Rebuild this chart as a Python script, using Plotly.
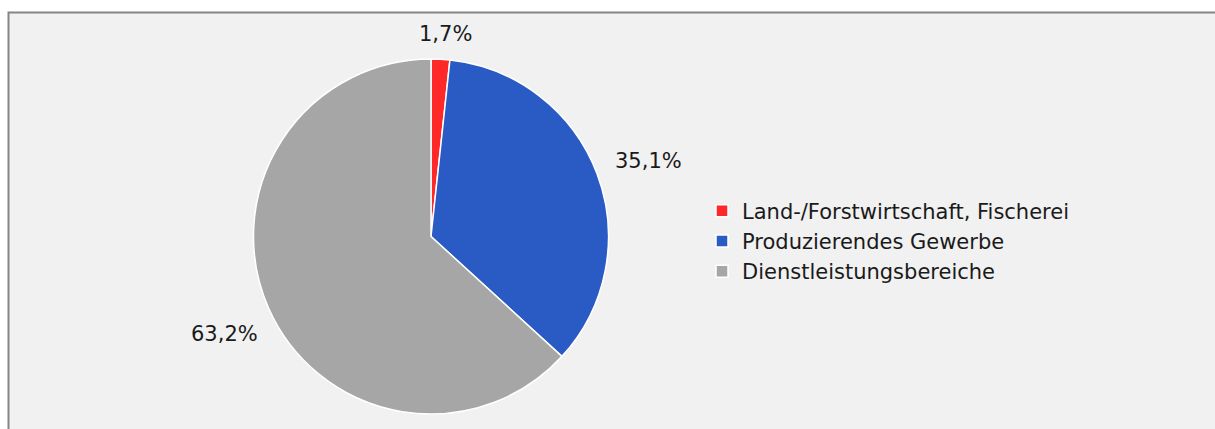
import math
import plotly.graph_objects as go

# Anteile der Wirtschaftsbereiche (Prozent)
sectors = ["Land-/Forstwirtschaft, Fischerei", "Produzierendes Gewerbe", "Dienstleistungsbereiche"]
shares = [1.7, 35.1, 63.2]
share_labels = ["1,7%", "35,1%", "63,2%"]
colors = ["#FF2828", "#2A5BC4", "#A6A6A6"]

W, H = 1215, 429
FONT = "DejaVu Sans"
FS = 21
TEXT_COLOR = "#1a1a1a"

# Kreisgeometrie in Pixeln
CX, CY, R = 431, 236.5, 177.5

fig = go.Figure(
    go.Pie(
        labels=sectors,
        values=shares,
        textinfo="none",
        sort=False,
        direction="clockwise",
        rotation=0,
        marker=dict(colors=colors, line=dict(color="white", width=1.5)),
        domain=dict(x=[(CX - R) / W, (CX + R) / W], y=[(H - CY - R) / H, (H - CY + R) / H]),
        hoverinfo="label+percent",
    )
)

# Beschriftungen außerhalb der Segmente, mittig zum jeweiligen Winkel
total = sum(shares)
cum = 0.0
GAP = 17
for val, txt in zip(shares, share_labels):
    mid = (cum + val / 2) / total * 2 * math.pi
    cum += val
    ux, uy = math.sin(mid), math.cos(mid)
    w_est, h_est = len(txt) * FS * 0.62, FS * 1.1
    d = R + GAP + abs(ux) * w_est / 2 + abs(uy) * h_est / 2
    px, py = CX + ux * d + 3, CY - uy * d + 5
    fig.add_annotation(
        x=px / W, y=(H - py) / H, xref="paper", yref="paper",
        text=txt, showarrow=False, xanchor="center", yanchor="middle",
        font=dict(family=FONT, size=FS, color=TEXT_COLOR),
    )

# Rahmen und Hintergrund des Diagrammbereichs
fig.add_shape(
    type="rect", xref="paper", yref="paper",
    x0=8.5 / W, x1=1.02, y0=-0.05, y1=(H - 12.5) / H,
    fillcolor="#F1F1F1", line=dict(color="#858585", width=2), layer="below",
)

fig.update_layout(
    width=W, height=H,
    margin=dict(l=0, r=0, t=0, b=0),
    paper_bgcolor="white",
    plot_bgcolor="white",
    showlegend=True,
    legend=dict(
        x=702 / W, xanchor="left", y=(H - 241) / H, yanchor="middle",
        font=dict(family=FONT, size=FS, color=TEXT_COLOR),
        bgcolor="rgba(0,0,0,0)", itemclick=False,
        tracegroupgap=0,
    ),
)

fig.write_html("out.html")
